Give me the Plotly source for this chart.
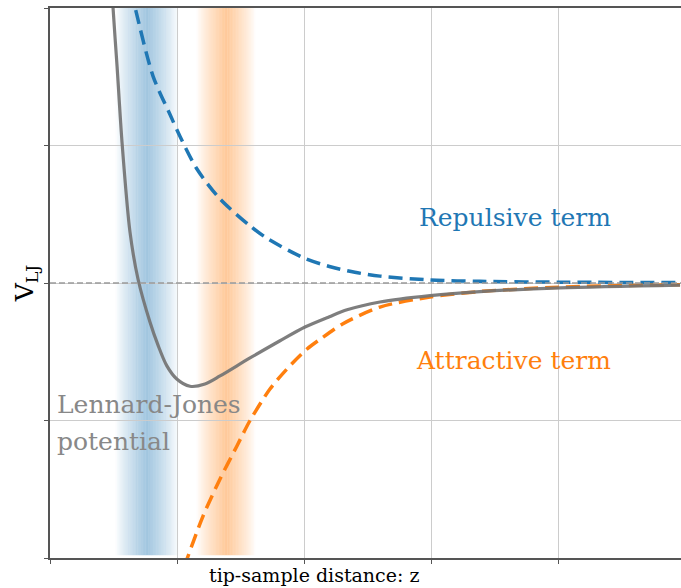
import plotly.graph_objects as go

# ---- data ----
z_rep = [0.60, 0.669, 0.811, 0.945, 1.024, 1.157, 1.339, 1.575, 1.709, 2.008, 2.20, 2.40, 2.598, 2.992, 3.386, 4.016, 4.961]
v_rep = [2.28, 2.007, 1.505, 1.225, 1.065, 0.829, 0.611, 0.415, 0.325, 0.178, 0.120, 0.078, 0.050, 0.022, 0.012, 0.006, 0.003]

z_att = [1.00, 1.079, 1.205, 1.339, 1.472, 1.575, 1.732, 1.866, 2.024, 2.126, 2.30, 2.598, 2.992, 3.386, 4.016, 4.961]
v_att = [-2.21, -2.007, -1.695, -1.425, -1.185, -1.00, -0.771, -0.625, -0.480, -0.410, -0.300, -0.175, -0.102, -0.062, -0.030, -0.012]

z_lj = [0.47, 0.496, 0.528, 0.567, 0.630, 0.693, 0.787, 0.852, 0.919, 0.998, 1.102, 1.220, 1.339, 1.575, 1.811, 2.008, 2.20, 2.339, 2.598, 2.992, 3.386, 4.016, 4.961]
v_lj = [2.50, 2.007, 1.578, 1.025, 0.370, 0.029, -0.284, -0.456, -0.601, -0.698, -0.751, -0.735, -0.676, -0.545, -0.420, -0.320, -0.245, -0.195, -0.138, -0.092, -0.063, -0.035, -0.015]

band_centers = [0.764, 1.386]
band_halfwidths = [0.248, 0.232]
band_colors = ["31,119,180", "255,127,14"]
band_alpha = [0.42, 0.42]

x_ticks = [0, 1, 2, 3, 4]
y_ticks = [-2, -1, 0, 1, 2]

fig = go.Figure()

# gradient bands made from thin strips
shapes = []
N = 40
for c, hw, col, amax in zip(band_centers, band_halfwidths, band_colors, band_alpha):
    step = 2 * hw / N
    for i in range(N):
        x0 = c - hw + i * step
        mid = x0 + step / 2
        d = abs(mid - c) / hw
        a = amax * max(0.0, 1 - d) ** 0.85
        shapes.append(dict(type="rect", xref="x", yref="y", x0=x0, x1=x0 + step * 1.02,
                           y0=-1.98, y1=2.0, line=dict(width=0),
                           fillcolor=f"rgba({col},{a:.3f})", layer="below"))

dash = "14px,7px"
fig.add_trace(go.Scatter(x=z_rep, y=v_rep, mode="lines", line=dict(color="#1f77b4", width=3.5, dash=dash, shape="spline", smoothing=0.8), showlegend=False))
fig.add_trace(go.Scatter(x=z_att, y=v_att, mode="lines", line=dict(color="#ff7f0e", width=3.5, dash=dash, shape="spline", smoothing=0.8), showlegend=False))
fig.add_trace(go.Scatter(x=z_lj, y=v_lj, mode="lines", line=dict(color="rgba(115,115,115,0.92)", width=3.2, shape="spline", smoothing=0.8), showlegend=False))

# zero line
shapes.append(dict(type="line", xref="paper", yref="y", x0=0, x1=1, y0=0, y1=0,
                   line=dict(color="#9a9a9a", width=1.5, dash="6px,3px")))

font_family = "DejaVu Serif"
ann = [
    dict(x=2.89, y=0.473, text="Repulsive term", font=dict(color="#1f77b4", size=25)),
    dict(x=2.866, y=-0.56, text="Attractive term", font=dict(color="#ff7f0e", size=25)),
    dict(x=0.04, y=-0.88, text="Lennard-Jones", font=dict(color="#888888", size=25)),
    dict(x=0.04, y=-1.15, text="potential", font=dict(color="#888888", size=25)),
]
annotations = []
for a in ann:
    annotations.append(dict(xref="x", yref="y", x=a["x"], y=a["y"], text=a["text"], showarrow=False,
                            xanchor="left", yanchor="middle", font=dict(family=font_family, **a["font"])))

# x-axis label (positioned as in the reference)
annotations.append(dict(xref="paper", yref="paper", x=0.418, y=-0.030, text="tip-sample distance: z",
                        showarrow=False, xanchor="center", yanchor="middle",
                        font=dict(family=font_family, size=19, color="black")))

fig.update_layout(
    width=681, height=588,
    margin=dict(l=50, r=0, t=8, b=30),
    plot_bgcolor="white", paper_bgcolor="white",
    font=dict(family=font_family),
    shapes=shapes, annotations=annotations,
    xaxis=dict(range=[0, 631 / 127], tickvals=x_ticks, showticklabels=False, ticks="outside", ticklen=4,
               tickcolor="#555", showgrid=True, gridcolor="#cccccc", gridwidth=1, zeroline=False,
               showline=True, linecolor="#555", linewidth=1.5, mirror=True),
    yaxis=dict(range=[-2, 2], tickvals=y_ticks, showticklabels=False, ticks="outside", ticklen=4,
               tickcolor="#555", showgrid=True, gridcolor="#cccccc", gridwidth=1, zeroline=False,
               showline=True, linecolor="#555", linewidth=1.5,
               title=dict(text="V<sub>LJ</sub>", font=dict(family=font_family, size=25, color="black"), standoff=4)),
)

fig.write_html("out.html")
